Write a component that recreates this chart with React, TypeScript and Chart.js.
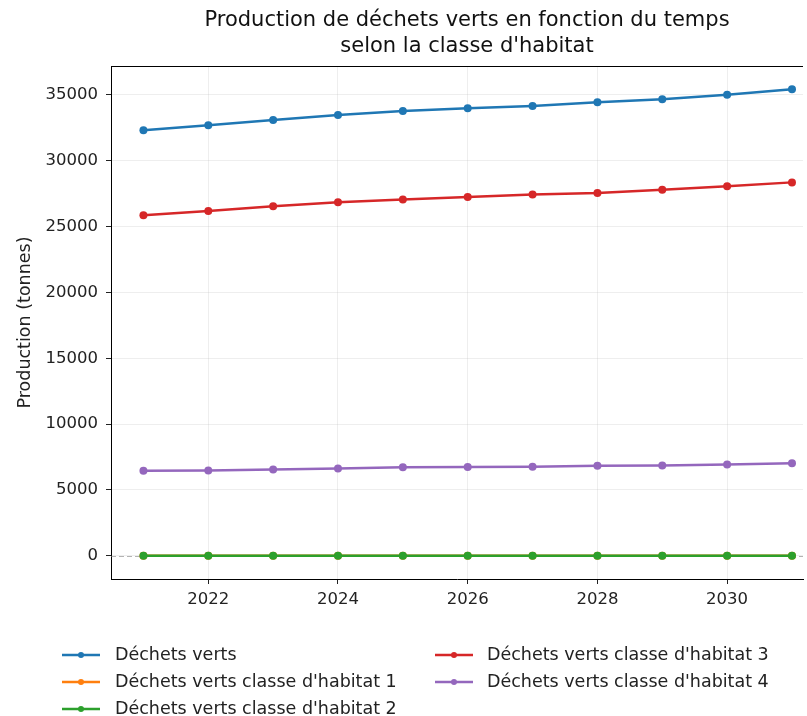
import React, { useEffect, useRef } from "react";
import { Chart, registerables } from "chart.js";

Chart.register(...registerables);

const years = [2021, 2022, 2023, 2024, 2025, 2026, 2027, 2028, 2029, 2030, 2031];
const dechetsVerts = [32320, 32700, 33100, 33480, 33790, 33990, 34170, 34450, 34670, 35020, 35430];
const classe1 = [0, 0, 0, 0, 0, 0, 0, 0, 0, 0, 0];
const classe2 = [0, 0, 0, 0, 0, 0, 0, 0, 0, 0, 0];
const classe3 = [25860, 26190, 26540, 26845, 27050, 27250, 27430, 27555, 27800, 28060, 28360];
const classe4 = [6450, 6475, 6550, 6625, 6725, 6735, 6760, 6830, 6855, 6930, 7030];

const seriesNames = [
  "Déchets verts",
  "Déchets verts classe d'habitat 1",
  "Déchets verts classe d'habitat 2",
  "Déchets verts classe d'habitat 3",
  "Déchets verts classe d'habitat 4",
];
const seriesColors = ["#1f77b4", "#ff7f0e", "#2ca02c", "#d62728", "#9467bd"];
const xTicks = [2022, 2024, 2026, 2028, 2030];
const yTicks = [0, 5000, 10000, 15000, 20000, 25000, 30000, 35000];
const titleLines = ["Production de déchets verts en fonction du temps", "selon la classe d'habitat"];
const yLabel = "Production (tonnes)";

const FONT = "'DejaVu Sans', sans-serif";

export default function App() {
  const ref = useRef<HTMLCanvasElement | null>(null);

  useEffect(() => {
    if (!ref.current) return;
    const allSeries = [dechetsVerts, classe1, classe2, classe3, classe4];
    const datasets = allSeries.map((vals, i) => ({
      label: seriesNames[i],
      data: years.map((y, j) => ({ x: y, y: vals[j] })),
      borderColor: seriesColors[i],
      backgroundColor: seriesColors[i],
      borderWidth: 2.5,
      pointRadius: 4,
      pointBorderWidth: 0,
      pointHoverRadius: 4,
      tension: 0,
      order: 5 - i,
    }));

    const decor = {
      id: "decor",
      beforeDatasetsDraw(chart: any) {
        const { ctx, chartArea, scales } = chart;
        const y0 = scales.y.getPixelForValue(0);
        ctx.save();
        ctx.strokeStyle = "rgba(128,128,128,0.6)";
        ctx.lineWidth = 1;
        ctx.setLineDash([5, 3]);
        ctx.beginPath();
        ctx.moveTo(chartArea.left, Math.round(y0) + 0.5);
        ctx.lineTo(chartArea.right, Math.round(y0) + 0.5);
        ctx.stroke();
        ctx.restore();
      },
      afterDraw(chart: any) {
        const { ctx, chartArea } = chart;
        ctx.save();
        // top spine
        ctx.strokeStyle = "#000";
        ctx.lineWidth = 1;
        ctx.beginPath();
        ctx.moveTo(chartArea.left, Math.round(chartArea.top) + 0.5);
        ctx.lineTo(chartArea.right, Math.round(chartArea.top) + 0.5);
        ctx.stroke();
        // title
        ctx.fillStyle = "#111";
        ctx.font = `21px ${FONT}`;
        ctx.textAlign = "center";
        ctx.textBaseline = "middle";
        const cx = 467;
        ctx.fillText(titleLines[0], cx, 21);
        ctx.fillText(titleLines[1], cx, 47);
        // y label
        ctx.save();
        ctx.translate(25, (chartArea.top + chartArea.bottom) / 2);
        ctx.rotate(-Math.PI / 2);
        ctx.font = `17.5px ${FONT}`;
        ctx.fillStyle = "#222";
        ctx.fillText(yLabel, 0, 0);
        ctx.restore();
        // legend
        const cols = [
          { hx: 62, tx: 115, items: [0, 1, 2] },
          { hx: 435, tx: 487, items: [3, 4] },
        ];
        const rowsY = [655, 682, 709];
        ctx.font = `17.5px ${FONT}`;
        ctx.textAlign = "left";
        ctx.textBaseline = "middle";
        cols.forEach((c) => {
          c.items.forEach((idx, r) => {
            const y = rowsY[r];
            ctx.strokeStyle = seriesColors[idx];
            ctx.lineWidth = 2.5;
            ctx.beginPath();
            ctx.moveTo(c.hx, y);
            ctx.lineTo(c.hx + 38, y);
            ctx.stroke();
            ctx.fillStyle = seriesColors[idx];
            ctx.beginPath();
            ctx.arc(c.hx + 19, y, 3, 0, Math.PI * 2);
            ctx.fill();
            ctx.fillStyle = "#222";
            ctx.fillText(seriesNames[idx], c.tx, y);
          });
        });
        ctx.restore();
      },
    };

    const chart = new Chart(ref.current, {
      type: "line",
      data: { datasets },
      options: {
        animation: false,
        responsive: false,
        devicePixelRatio: 1,
        layout: { padding: { top: 66, left: 0, right: 0, bottom: 97 } },
        plugins: { legend: { display: false }, tooltip: { enabled: false }, title: { display: false } },
        scales: {
          x: {
            type: "linear",
            min: 2020.5,
            max: 2031.17,
            afterBuildTicks: (s: any) => {
              s.ticks = xTicks.map((v) => ({ value: v }));
            },
            afterFit: (s: any) => {
              s.height = 40;
            },
            grid: {
              color: "rgba(176,176,176,0.22)",
              tickColor: "#222",
              tickLength: 5,
              drawTicks: true,
            },
            border: { display: true, color: "#000", width: 1 },
            ticks: {
              color: "#222",
              font: { family: FONT, size: 16.5 },
              padding: 6,
              maxRotation: 0,
              autoSkip: false,
              callback: (v: any) => String(v),
            },
          },
          y: {
            type: "linear",
            min: -1771,
            max: 37201,
            afterBuildTicks: (s: any) => {
              s.ticks = yTicks.map((v) => ({ value: v }));
            },
            afterFit: (s: any) => {
              s.width = 111;
            },
            grid: {
              color: "rgba(176,176,176,0.22)",
              tickColor: "#222",
              tickLength: 5,
              drawTicks: true,
            },
            border: { display: true, color: "#000", width: 1 },
            ticks: {
              color: "#222",
              font: { family: FONT, size: 16.5 },
              padding: 8,
              autoSkip: false,
              callback: (v: any) => String(v),
            },
          },
        },
      },
      plugins: [decor],
    });
    return () => chart.destroy();
  }, []);

  return (
    <div style={{ position: "absolute", left: 0, top: 0, width: 807, height: 716, background: "#fff" }}>
      <canvas ref={ref} width={807} height={716} style={{ display: "block", width: 807, height: 716 }} />
    </div>
  );
}
